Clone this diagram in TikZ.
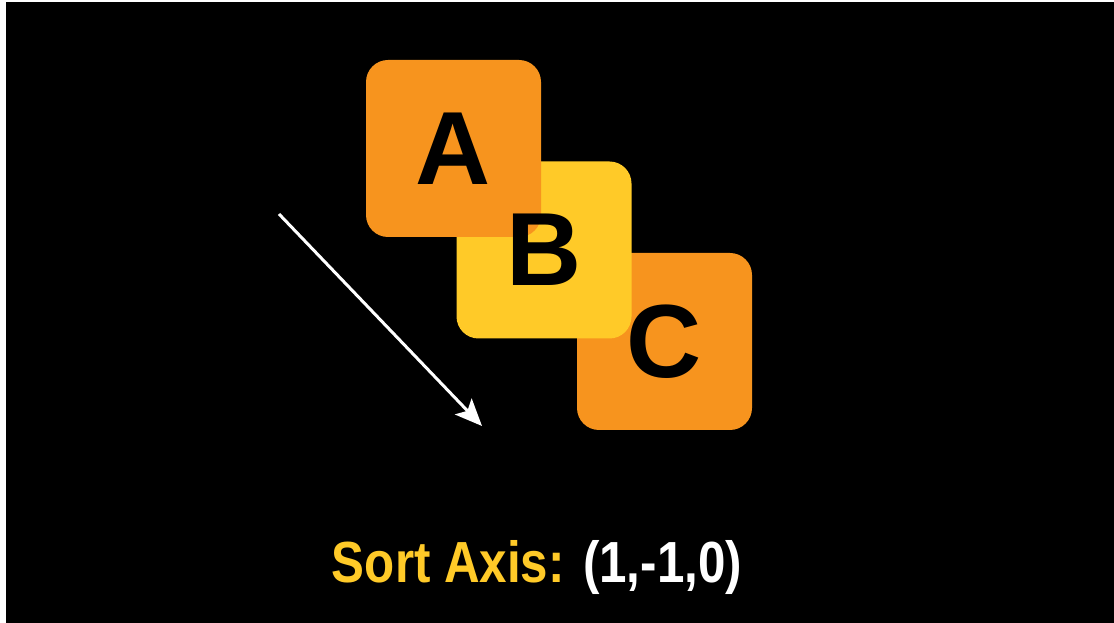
\documentclass[tikz,border=0pt]{standalone}
\usepackage{fontspec}
\setmainfont{Liberation Sans}
\usepackage{xcolor}
\usepackage{graphicx}
\usetikzlibrary{arrows.meta}
\definecolor{tileorange}{HTML}{F7941E}
\definecolor{tileyellow}{HTML}{FFCA28}
\tikzstyle{tile} = [rectangle, rounded corners=22pt,
minimum width=175pt,
minimum height=177pt,
inner sep=0pt]
\tikzstyle{letter} = [inner sep=0pt,
text centered,
font=\fontsize{104}{104}\selectfont\bfseries,
text=black]
\tikzstyle{arrow} = [line width=3pt, draw=white, -{Stealth[length=27pt,width=23pt,inset=6pt]}]

\begin{document}
\begin{tikzpicture}[x=1pt, y=1pt]

% Background
\fill[white] (0,0) rectangle (1114,623);
\fill[black] (6,0) rectangle (1114,621);
\useasboundingbox (0,0) rectangle (1114,623);

% Nodes
\node (tileC) [tile, fill=tileorange] at (664.5,281.5) {};
\node (tileB) [tile, fill=tileyellow] at (544,373) {};
\node (tileA) [tile, fill=tileorange] at (453.5,474.5) {};
\node (letterA) [letter] at (tileA.center) {A};
\node (letterB) [letter] at (tileB.center) {B};
\node (letterC) [letter] at (tileC.center) {C};
\coordinate (axisstart) at (279,409);
\coordinate (axisend) at (482,197);
\node (label) [anchor=base, font=\fontsize{58}{58}\selectfont\bfseries, inner sep=0pt] at (537,40)
  {\scalebox{0.85}[1]{\textcolor{tileyellow}{Sort Axis:} \textcolor{white}{(1,-1,0)}}};

% Arrows
\draw [arrow] (axisstart) -- (axisend);

\end{tikzpicture}
\end{document}
